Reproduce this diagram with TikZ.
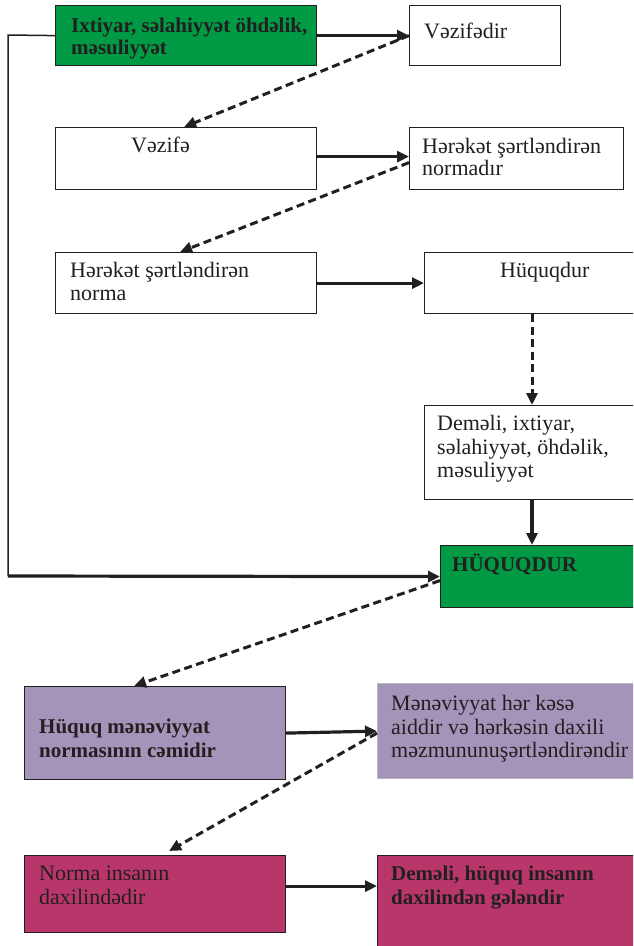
\documentclass[tikz,border=0pt]{standalone}
\usepackage{fontspec}
\setmainfont{Liberation Serif}
\usetikzlibrary{arrows.meta}
\definecolor{grn}{RGB}{0,153,68}
\definecolor{prp}{RGB}{165,148,186}
\definecolor{mag}{RGB}{185,54,106}
\definecolor{ink}{RGB}{35,31,32}
\begin{document}
\begin{tikzpicture}[x=1pt,y=-1pt,
  box/.style={draw=ink, line width=1.2pt, inner sep=0pt, anchor=north west},
  txt/.style={anchor=base west, inner sep=0pt, text=ink, font=\fontsize{22}{23}\selectfont},
  btxt/.style={anchor=base west, inner sep=0pt, text=ink, font=\fontsize{21}{23}\selectfont\bfseries},
  arr/.style={draw=ink, line width=3.2pt, -{Triangle[length=12pt,width=11pt]}},
  dsh/.style={draw=ink, line width=3pt, dash pattern=on 8pt off 4.5pt, -{Triangle[length=12pt,width=11pt]}},
  thinln/.style={draw=ink, line width=1.5pt}]
\useasboundingbox (0,0) rectangle (633,946);
\clip (0,0) rectangle (633,946);
% boxes
\node[box, fill=grn, minimum width=261pt, minimum height=60pt] (b1) at (55,5) {};
\node[box, fill=white, minimum width=151pt, minimum height=60pt] (b2) at (409,5) {};
\node[box, fill=white, minimum width=261pt, minimum height=62pt] (b3) at (55,127) {};
\node[box, fill=white, minimum width=214pt, minimum height=62pt] (b4) at (409,127) {};
\node[box, fill=white, minimum width=261pt, minimum height=61pt] (b5) at (55,252) {};
\node[box, fill=white, minimum width=220pt, minimum height=61pt] (b6) at (424,252) {};
\node[box, fill=white, minimum width=220pt, minimum height=94pt] (b7) at (424,405) {};
\node[box, fill=grn, minimum width=210pt, minimum height=62pt] (b8) at (440,545) {};
\node[box, fill=prp, minimum width=261pt, minimum height=93pt] (b9) at (24,686) {};
\node[box, fill=prp, draw=gray!55, minimum width=270pt, minimum height=95pt] (b10) at (377,683) {};
\node[box, fill=mag, minimum width=261pt, minimum height=77pt] (b11) at (24,855) {};
\node[box, fill=mag, minimum width=270pt, minimum height=110pt] (b12) at (377,855) {};
% texts
\node[btxt] (t1a) at (71,32) {Ixtiyar, səlahiyyət öhdəlik,};
\node[btxt] (t1b) at (71,54) {məsuliyyət};
\node[txt] (t2) at (424,38) {Vəzifədir};
\node[txt] (t3) at (131,152) {Vəzifə};
\node[txt] (t4a) at (422,153) {Hərəkət şərtləndirən};
\node[txt] (t4b) at (422,175) {normadır};
\node[txt] (t5a) at (70,277) {Hərəkət şərtləndirən};
\node[txt] (t5b) at (70,300) {norma};
\node[txt] (t6) at (500,277) {Hüquqdur};
\node[txt] (t7a) at (437,430) {Deməli, ixtiyar,};
\node[txt] (t7b) at (437,454) {səlahiyyət, öhdəlik,};
\node[txt] (t7c) at (437,477) {məsuliyyət};
\node[btxt] (t8) at (452,571) {HÜQUQDUR};
\node[btxt] (t9a) at (39,733) {Hüquq mənəviyyat};
\node[btxt] (t9b) at (39,757) {normasının cəmidir};
\node[txt] (t10a) at (391,710) {Mənəviyyat hər kəsə};
\node[txt] (t10b) at (391,734) {aiddir və hərkəsin daxili};
\node[txt] (t10c) at (391,757) {məzmununuşərtləndirəndir};
\node[txt] (t11a) at (39,880) {Norma insanın};
\node[txt] (t11b) at (39,904) {daxilindədir};
\node[btxt] (t12a) at (391,880) {Deməli, hüquq insanın};
\node[btxt] (t12b) at (391,904) {daxilindən gələndir};
% connectors
\coordinate (c1) at (8,35);
\coordinate (c2) at (8,576);
\draw[thinln] (b1.west) -- (c1) -- (c2);
\draw[arr] (c2) -- (b8.west);
\draw[arr] (b1.east) -- (b2.west);
\draw[arr] ([yshift=2pt]b3.east) -- ([yshift=2pt]b3.east -| b4.west);
\draw[arr] (b5.east) -- (b6.west);
\draw[arr] (b7.south -| 532,0) -- (b8.north -| 532,0);
\draw[arr] (b9.east) -- (b10.west);
\draw[arr] ([yshift=8pt]b11.east) -- ([yshift=8pt]b11.east -| b12.west);
\draw[dsh] (b2.west) -- ([xshift=-2pt]b3.north);
\draw[dsh] ([yshift=-4pt]b4.west) -- ([xshift=-6pt]b5.north);
\draw[dsh] (b6.south -| 532,0) -- (b7.north -| 532,0);
\draw[dsh] ([yshift=-4pt]b8.west) -- ([xshift=-21pt]b9.north);
\draw[dsh] ([yshift=-2pt]b10.west) -- ([xshift=14pt,yshift=4pt]b11.north);
\end{tikzpicture}
\end{document}
